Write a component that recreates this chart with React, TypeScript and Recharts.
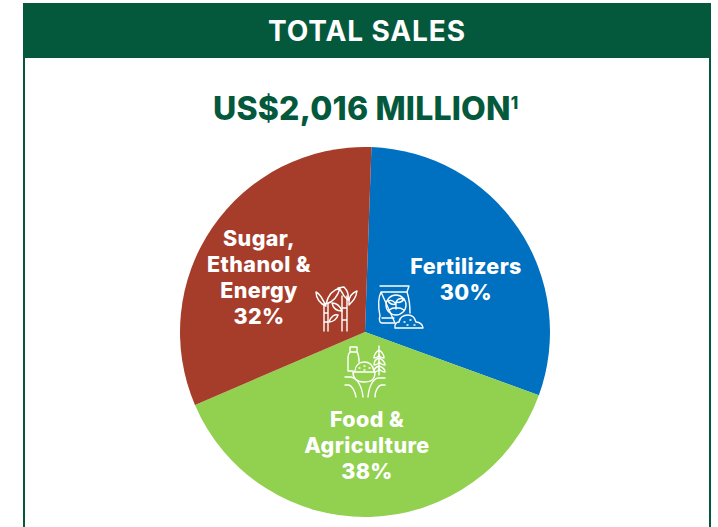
import React from 'react';
import { PieChart, Pie, Cell } from 'recharts';

const categories = ['Fertilizers', 'Food & Agriculture', 'Sugar, Ethanol & Energy'];
const categoryLines = [['Fertilizers'], ['Food &', 'Agriculture'], ['Sugar,', 'Ethanol &', 'Energy']];
const shares = [30, 38, 32];
const sliceColors = ['#0070C0', '#92D050', '#A63D2B'];
const labelOffsets = [
  { dx: 101, dy: -52 },
  { dx: 2, dy: 114 },
  { dx: -106, dy: -54 },
];

const chartData = categories.map((name, i) => ({ name, value: shares[i] }));

const GREEN = '#04593D';
const FONT = 'Inter, "Open Sans", sans-serif';

function renderLabel(props: any) {
  const { cx, cy, index } = props;
  const lines = [...categoryLines[index], `${shares[index]}%`];
  const offset = labelOffsets[index];
  const lineHeight = 26;
  const top = cy + offset.dy - ((lines.length - 1) * lineHeight) / 2;
  return (
    <text
      key={index}
      textAnchor="middle"
      fill="#fff"
      fontFamily={FONT}
      fontWeight={800}
      fontSize={21.5}
      letterSpacing={0.4}
    >
      {lines.map((line, i) => (
        <tspan key={line} x={cx + offset.dx} y={top + i * lineHeight + 7}>
          {line}
        </tspan>
      ))}
    </text>
  );
}

// line icons sitting over the slices
function Icons() {
  return (
    <svg
      width={718}
      height={527}
      style={{ position: 'absolute', left: 0, top: 0, pointerEvents: 'none' }}
      fill="none"
      stroke="#fff"
      strokeWidth={1.4}
      strokeLinecap="round"
      strokeLinejoin="round"
    >
      {/* sugar cane */}
      <path d="M324 304V331M328 304V331M324 313H328M324 322H328" />
      <path d="M342 296V331M347 296V331M342 308H347M342 320H347" />
      <path d="M326 306C322 298 320 294 316 292C316 298 320 304 326 306ZM326 304C328 295 332 290 340 288C338 296 333 302 326 304Z" />
      <path d="M344 296C342 292 340 289 338 288L344 287C348 291 349 295 348 300ZM349 302C349 296 352 293 357 291C356 298 353 301 349 305Z" />
      <path d="M329 322C331 316 335 314 338 315C337 319 333 322 329 322ZM342 311C340 306 336 303 332 303C333 308 337 311 342 311Z" />
      {/* fertilizer bag */}
      <path d="M380 286H409L407 292C409 298 410 304 410 313M395 323H382C379 323 379 318 380 316C378 306 378 298 381 292ZM381 292H406M382 318H394" />
      <circle cx={396} cy={305} r={10} />
      <path d="M396 309V302M396 304C393 300 390 300 388 301C390 304 393 305 396 304ZM396 302C398 298 401 298 404 299C402 302 399 303 396 302ZM389 310C393 307 400 307 404 310" />
      <path d="M395 328C394 324 397 322 399 322C400 317 404 315 408 315C412 315 415 318 416 322C420 322 423 325 423 328Z" />
      <path d="M404 322H405M410 320H411M407 325H408M414 325H415" />
      {/* bottle, bowl, wheat */}
      <path d="M353 371H348V359C348 356 348 354 350 352V347H357V352C359 355 359 358 359 362M350 352H356" />
      <path d="M353 372C353 380 358 382 364 382C371 382 375 380 375 372ZM355 371C355 366 359 362 364 362C370 362 373 366 374 371" />
      <path d="M359 368H360M364 366H365M369 368H370M364 370H365" />
      <path d="M379 346V375M379 350C376 352 374 355 374 358C377 358 379 356 379 354M379 350C382 352 384 355 384 358C381 358 379 356 379 354M379 358C376 359 374 362 374 365C377 365 379 363 379 361M379 358C382 359 385 362 385 365C382 365 379 363 379 361M379 366C376 367 374 369 374 372C377 372 379 370 379 368M379 366C382 367 385 369 385 372C382 372 379 370 379 368" />
      <path d="M345 377H351C357 378 362 386 363 397M345 385H349C352 386 355 391 356 397M385 378H378C373 379 369 386 368 397M385 385H381C378 386 375 391 375 397" />
    </svg>
  );
}

export default function App() {
  return (
    <div
      style={{
        position: 'absolute',
        left: 0,
        top: 0,
        width: 718,
        height: 527,
        background: '#fff',
        overflow: 'hidden',
      }}
    >
      <div
        style={{
          position: 'absolute',
          left: 23,
          top: 3,
          width: 688,
          height: 55,
          background: GREEN,
          color: '#fff',
          fontFamily: FONT,
          fontWeight: 700,
          fontSize: 28,
          letterSpacing: 0.9,
          lineHeight: '56px',
          textAlign: 'center',
        }}
      >
        TOTAL SALES
      </div>
      <div style={{ position: 'absolute', left: 23, top: 58, width: 2, height: 469, background: GREEN }} />
      <div style={{ position: 'absolute', left: 709, top: 58, width: 2, height: 469, background: GREEN }} />
      <div
        style={{
          position: 'absolute',
          left: 213,
          top: 87,
          whiteSpace: 'nowrap',
          color: GREEN,
          fontFamily: FONT,
          fontWeight: 800,
          fontSize: 32,
          letterSpacing: 0.2,
          lineHeight: '44px',
        }}
      >
        US$2,016 MILLION
        <sup style={{ fontSize: 17, lineHeight: 0, verticalAlign: 11, letterSpacing: 0 }}>1</sup>
      </div>
      <PieChart
        width={718}
        height={527}
        margin={{ top: 0, right: 0, bottom: 0, left: 0 }}
        style={{ position: 'absolute', left: 0, top: 0 }}
      >
        <Pie
          data={chartData}
          dataKey="value"
          nameKey="name"
          cx={365}
          cy={332}
          innerRadius={0}
          outerRadius={185}
          startAngle={88}
          endAngle={-272}
          stroke="none"
          label={renderLabel}
          labelLine={false}
          isAnimationActive={false}
        >
          {chartData.map((entry, i) => (
            <Cell key={entry.name} fill={sliceColors[i]} />
          ))}
        </Pie>
      </PieChart>
      <Icons />
    </div>
  );
}
